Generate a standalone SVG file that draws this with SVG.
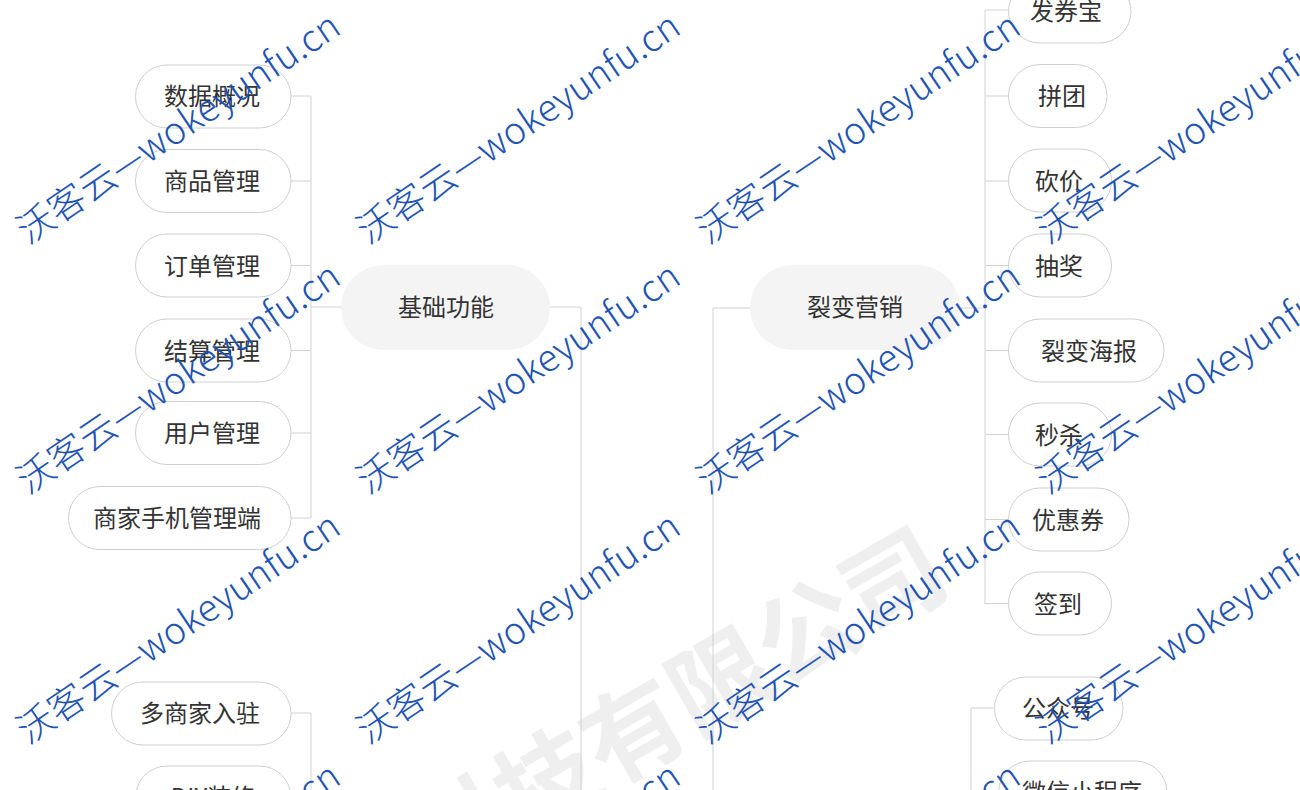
<svg xmlns="http://www.w3.org/2000/svg" width="1300" height="790" viewBox="0 0 1300 790">
<style>
.leaf rect{fill:#ffffff;stroke:#cfcfcf;stroke-width:1}
.main rect{fill:#f4f4f4;stroke:none}
.lbl{font-family:"Noto Sans CJK SC","Noto Sans",sans-serif;font-size:24px;fill:#333333;text-anchor:middle;dominant-baseline:central}
.conn{fill:none;stroke:#d2d2d2;stroke-width:1}
.wm{font-family:"Noto Sans CJK SC","Noto Sans",sans-serif;font-size:37px;font-weight:300;fill:#2153b3}
.bigwm{font-family:"Noto Sans CJK SC",sans-serif;font-size:100px;font-weight:bold;fill:#efefef;text-anchor:middle}
</style>
<rect x="0" y="0" width="1300" height="790" fill="#ffffff"/>
<g id="bg-watermark">
<text class="bigwm" transform="translate(695,738) rotate(-30)" x="0" y="0">科技有限公司</text>
</g>
<g id="connectors" class="conn">
<path d="M291 96H311M291 181H311M291 265.5H311M291 350.5H311M291 433H311M291 518H311M311 96V518M311 307H341"/>
<path d="M550 307H581V790"/>
<path d="M750 308H713V790"/>
<path d="M960 308H985"/>
<path d="M985 10V604M985 10H1008M985 96H1008M985 181H1008M985 265.5H1008M985 350.5H1008M985 434.5H1008M985 519.5H1008M985 603.5H1008"/>
<path d="M291 713H311V790"/>
<path d="M994 708H971V790"/>
</g>
<g id="n-jichu" class="main"><rect x="341" y="265" width="209" height="85" rx="42.5"/><text class="lbl" x="446" y="305.5">基础功能</text></g>
<g id="n-liebian" class="main"><rect x="750" y="265" width="210" height="85" rx="42.5"/><text class="lbl" x="855" y="305.5">裂变营销</text></g>
<g id="n-shuju" class="leaf"><rect x="135.5" y="65" width="155.5" height="63" rx="31.5"/><text class="lbl" x="212" y="94.5">数据概况</text></g>
<g id="n-shangpin" class="leaf"><rect x="135.5" y="149.5" width="155.5" height="63" rx="31.5"/><text class="lbl" x="212" y="179.5">商品管理</text></g>
<g id="n-dingdan" class="leaf"><rect x="135.5" y="234" width="155.5" height="63" rx="31.5"/><text class="lbl" x="212" y="264">订单管理</text></g>
<g id="n-jiesuan" class="leaf"><rect x="135.5" y="319" width="155.5" height="63" rx="31.5"/><text class="lbl" x="212" y="349">结算管理</text></g>
<g id="n-yonghu" class="leaf"><rect x="135.5" y="401.5" width="155.5" height="63" rx="31.5"/><text class="lbl" x="212" y="431.5">用户管理</text></g>
<g id="n-shoujiduan" class="leaf"><rect x="68.5" y="486.5" width="222.5" height="63" rx="31.5"/><text class="lbl" x="177" y="516.5">商家手机管理端</text></g>
<g id="n-duoshangjia" class="leaf"><rect x="111.5" y="682" width="179.5" height="63" rx="31.5"/><text class="lbl" x="200" y="711.5">多商家入驻</text></g>
<g id="n-diy" class="leaf"><rect x="135.5" y="766" width="155.5" height="63" rx="31.5"/><text class="lbl" x="213" y="795.5">DIY装修</text></g>
<g id="n-faquanbao" class="leaf"><rect x="1008.5" y="-20" width="122.5" height="63" rx="31.5"/><text class="lbl" x="1066" y="9.5">发券宝</text></g>
<g id="n-pintuan" class="leaf"><rect x="1008.5" y="64.5" width="98.5" height="63" rx="31.5"/><text class="lbl" x="1062" y="94.5">拼团</text></g>
<g id="n-kanjia" class="leaf"><rect x="1008.5" y="149" width="103" height="63" rx="31.5"/><text class="lbl" x="1059" y="179">砍价</text></g>
<g id="n-choujiang" class="leaf"><rect x="1008.5" y="234" width="103" height="63" rx="31.5"/><text class="lbl" x="1059" y="264">抽奖</text></g>
<g id="n-haibao" class="leaf"><rect x="1008.5" y="319" width="155.5" height="63" rx="31.5"/><text class="lbl" x="1089" y="349">裂变海报</text></g>
<g id="n-miaosha" class="leaf"><rect x="1008.5" y="403" width="103" height="63" rx="31.5"/><text class="lbl" x="1059" y="433">秒杀</text></g>
<g id="n-youhuiquan" class="leaf"><rect x="1008.5" y="488" width="120.5" height="63" rx="31.5"/><text class="lbl" x="1068" y="518">优惠券</text></g>
<g id="n-qiandao" class="leaf"><rect x="1008.5" y="572" width="103" height="63" rx="31.5"/><text class="lbl" x="1058" y="602">签到</text></g>
<g id="n-gongzhonghao" class="leaf"><rect x="994.5" y="677" width="128.5" height="63" rx="31.5"/><text class="lbl" x="1058" y="706.5">公众号</text></g>
<g id="n-xiaochengxu" class="leaf"><rect x="998.5" y="761" width="168.5" height="63" rx="31.5"/><text class="lbl" x="1082" y="790.5">微信小程序</text></g>
<g id="watermarks">
<defs><text id="wmt" class="wm" x="0" y="0" textLength="380" lengthAdjust="spacing">沃客云—wokeyunfu.cn</text></defs>
<use href="#wmt" transform="translate(28,245) rotate(-34)"/>
<use href="#wmt" transform="translate(368,245) rotate(-34)"/>
<use href="#wmt" transform="translate(708,245) rotate(-34)"/>
<use href="#wmt" transform="translate(1048,245) rotate(-34)"/>
<use href="#wmt" transform="translate(28,495) rotate(-34)"/>
<use href="#wmt" transform="translate(368,495) rotate(-34)"/>
<use href="#wmt" transform="translate(708,495) rotate(-34)"/>
<use href="#wmt" transform="translate(1048,495) rotate(-34)"/>
<use href="#wmt" transform="translate(28,745) rotate(-34)"/>
<use href="#wmt" transform="translate(368,745) rotate(-34)"/>
<use href="#wmt" transform="translate(708,745) rotate(-34)"/>
<use href="#wmt" transform="translate(1048,745) rotate(-34)"/>
<use href="#wmt" transform="translate(28,995) rotate(-34)"/>
<use href="#wmt" transform="translate(368,995) rotate(-34)"/>
<use href="#wmt" transform="translate(708,995) rotate(-34)"/>
<use href="#wmt" transform="translate(1048,995) rotate(-34)"/>
</g>
</svg>
